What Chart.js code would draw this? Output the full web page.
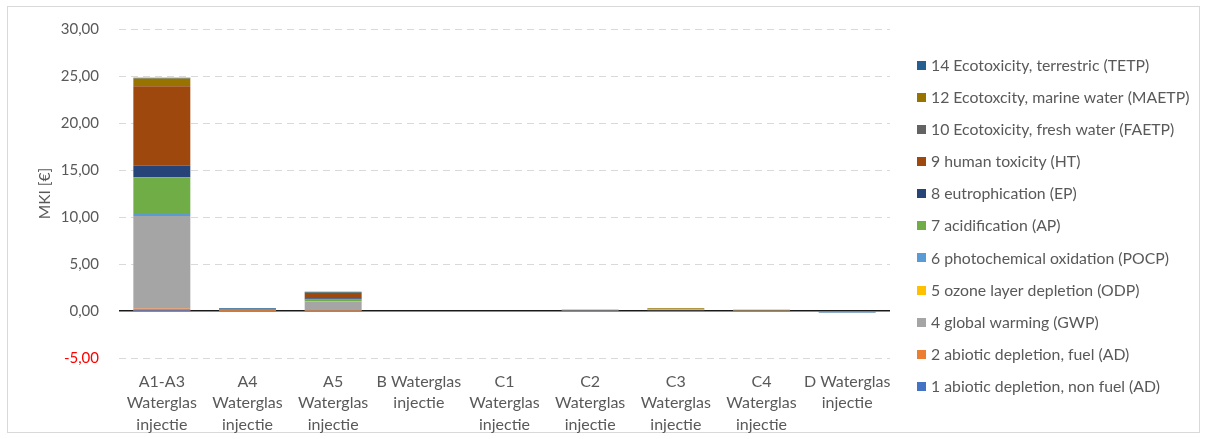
<!DOCTYPE html>
<html>
<head>
<meta charset="utf-8">
<script src="https://cdn.jsdelivr.net/npm/chart.js@4.4.0/dist/chart.umd.min.js"></script>
<style>
  html, body { margin: 0; padding: 0; background: #ffffff; }
  #wrap { width: 1207px; height: 439px; position: relative; }
</style>
</head>
<body>
<div id="wrap"><canvas id="mki" width="1207" height="439"></canvas></div>
<script>
// Life-cycle phases (multi-line axis labels)
const categories = [
  ["A1-A3", "Waterglas", "injectie"],
  ["A4", "Waterglas", "injectie"],
  ["A5", "Waterglas", "injectie"],
  ["B Waterglas", "injectie"],
  ["C1", "Waterglas", "injectie"],
  ["C2", "Waterglas", "injectie"],
  ["C3", "Waterglas", "injectie"],
  ["C4", "Waterglas", "injectie"],
  ["D Waterglas", "injectie"]
];

// MKI contribution per impact category, in euro
const abioticNonFuel   = [0.01, 0.00, 0.00, 0, 0, 0.00, 0.00, 0.00, 0.00];
const abioticFuel      = [0.25, 0.01, 0.02, 0, 0, 0.00, 0.00, 0.00, 0.00];
const globalWarming    = [9.85, 0.04, 1.00, 0, 0, 0.02, 0.17, 0.03, -0.03];
const ozoneDepletion   = [0.00, 0.00, 0.00, 0, 0, 0.00, 0.00, 0.00, 0.00];
const photochemical    = [0.21, 0.01, 0.02, 0, 0, 0.00, 0.00, 0.00, 0.00];
const acidification    = [3.92, 0.02, 0.18, 0, 0, 0.00, 0.01, 0.00, 0.00];
const eutrophication   = [1.20, 0.01, 0.14, 0, 0, 0.01, 0.00, 0.00, 0.00];
const humanToxicity    = [8.47, 0.08, 0.56, 0, 0, 0.01, 0.01, 0.02, 0.00];
const freshWaterEco    = [0.03, 0.00, 0.00, 0, 0, 0.00, 0.00, 0.00, 0.00];
const marineWaterEco   = [0.80, 0.01, 0.02, 0, 0, 0.00, 0.11, 0.07, 0.00];
const terrestrialEco   = [0.07, 0.10, 0.12, 0, 0, 0.08, 0.00, 0.00, -0.14];

const seriesNames = [
  "1 abiotic depletion, non fuel (AD)",
  "2 abiotic depletion, fuel (AD)",
  "4 global warming (GWP)",
  "5 ozone layer depletion (ODP)",
  "6 photochemical oxidation (POCP)",
  "7 acidification (AP)",
  "8 eutrophication (EP)",
  "9 human toxicity (HT)",
  "10 Ecotoxicity, fresh water (FAETP)",
  "12 Ecotoxcity, marine water (MAETP)",
  "14 Ecotoxicity, terrestric (TETP)"
];
const seriesValues = [
  abioticNonFuel, abioticFuel, globalWarming, ozoneDepletion, photochemical,
  acidification, eutrophication, humanToxicity, freshWaterEco, marineWaterEco, terrestrialEco
];
const seriesColors = [
  "#4472C4", "#ED7D31", "#A5A5A5", "#FFC000", "#5B9BD5",
  "#70AD47", "#264478", "#9E480E", "#636363", "#997300", "#255E91"
];

const yMin = -5, yMax = 30, yStep = 5;

const FONT = "Lato, 'Open Sans', sans-serif";
const TEXT = "#595959";

const datasets = seriesNames.map((name, i) => ({
  label: name,
  data: seriesValues[i],
  backgroundColor: seriesColors[i],
  borderWidth: 0,
  categoryPercentage: 1.0,
  barPercentage: 0.665
}));

// white page with thin light-grey frame
const framePlugin = {
  id: 'frame',
  beforeDraw(chart) {
    const c = chart.ctx;
    c.save();
    c.fillStyle = '#ffffff';
    c.fillRect(0, 0, chart.width, chart.height);
    c.strokeStyle = '#d9d9d9';
    c.lineWidth = 1;
    c.strokeRect(7.5, 6.5, 1192, 426);
    c.restore();
  }
};

// legend column on the right, last series on top
const sideLegend = {
  id: 'sideLegend',
  afterDraw(chart) {
    const c = chart.ctx;
    const ds = chart.data.datasets;
    const x0 = 917, textX = 931, y0 = 65, gap = 32.15, box = 9;
    c.save();
    c.font = "15.8px " + FONT;
    c.textBaseline = 'middle';
    c.textAlign = 'left';
    for (let k = 0; k < ds.length; k++) {
      const d = ds[ds.length - 1 - k];
      const y = y0 + k * gap;
      c.fillStyle = d.backgroundColor;
      c.fillRect(x0, Math.round(y - box / 2), box, box);
      c.fillStyle = TEXT;
      c.fillText(d.label, textX, y + 0.5);
    }
    c.restore();
  }
};

new Chart(document.getElementById('mki'), {
  type: 'bar',
  data: { labels: categories, datasets },
  options: {
    responsive: false,
    animation: false,
    devicePixelRatio: 1,
    layout: { padding: { top: 27, right: 317, bottom: 0, left: 0 } },
    plugins: {
      legend: { display: false },
      tooltip: { enabled: false }
    },
    scales: {
      x: {
        stacked: true,
        grid: { display: false, drawTicks: false },
        border: { display: false },
        ticks: {
          color: TEXT,
          font: { family: FONT, size: 16, lineHeight: '21.5px' },
          padding: 13,
          maxRotation: 0,
          autoSkip: false
        },
        afterFit(scale) { scale.height = 81; }
      },
      y: {
        stacked: true,
        min: yMin,
        max: yMax,
        grid: {
          drawTicks: false,
          color: (ctx) => (ctx.tick && ctx.tick.value === 0) ? '#1a1a1a' : '#d9d9d9',
          lineWidth: (ctx) => (ctx.tick && ctx.tick.value === 0) ? 1.5 : 1
        },
        border: {
          display: false,
          dash: (ctx) => (ctx.tick && ctx.tick.value === 0) ? [] : [7, 5]
        },
        ticks: {
          stepSize: yStep,
          padding: 20,
          color: (ctx) => (ctx.tick && ctx.tick.value < 0) ? '#FF0000' : TEXT,
          font: { family: FONT, size: 15 },
          callback: (v) => v.toFixed(2).replace('.', ',')
        },
        title: {
          display: true,
          text: 'MKI [€]',
          color: TEXT,
          font: { family: FONT, size: 15.5 },
          padding: { top: 36, bottom: 0 }
        },
        afterFit(scale) { scale.width = 119; }
      }
    }
  },
  plugins: [framePlugin, sideLegend]
});
</script>
</body>
</html>
